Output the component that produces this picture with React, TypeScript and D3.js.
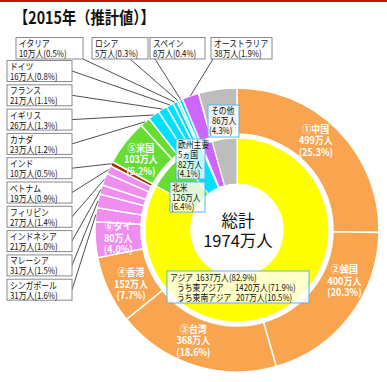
import React from 'react';
import * as d3 from 'd3';

// ---- data (万人, %) ----
const countries = ['中国', '韓国', '台湾', '香港', 'タイ', 'シンガポール', 'マレーシア', 'インドネシア', 'フィリピン', 'ベトナム', 'インド', '米国', 'カナダ', 'イギリス', 'フランス', 'ドイツ', 'イタリア', 'ロシア', 'スペイン', 'オーストラリア', 'その他'];
const visitors = [499, 400, 368, 152, 80, 31, 31, 21, 27, 19, 10, 103, 23, 26, 21, 16, 10, 5, 8, 38, 86];
const shares = [25.3, 20.3, 18.6, 7.7, 4.0, 1.6, 1.5, 1.0, 1.4, 0.9, 0.5, 5.2, 1.2, 1.3, 1.1, 0.8, 0.5, 0.3, 0.4, 1.9, 4.3];
const countryGroup = ['east', 'east', 'east', 'east', 'sea', 'sea', 'sea', 'sea', 'sea', 'sea', 'india', 'na', 'na', 'eu', 'eu', 'eu', 'eu', 'eu', 'eu', 'au', 'other'];

const regions = ['アジア', '北米', '欧州主要5ヵ国', 'ロシア', 'オーストラリア', 'その他'];
const regionVisitors = [1637, 126, 82, 5, 38, 86];
const regionShares = [82.9, 6.4, 4.1, 0.3, 1.9, 4.3];
const regionGroup = ['asia', 'na', 'eu', 'eu', 'au', 'other'];
const asiaSubNames = ['うち東アジア', 'うち東南アジア'];
const asiaSubVisitors = [1420, 207];
const asiaSubShares = [71.9, 10.5];

const rankedLabels = ['①中国', '②韓国', '③台湾', '④香港', '⑥タイ', '⑤米国'];
const rankedCountries = ['中国', '韓国', '台湾', '香港', 'タイ', '米国'];

const leftBoxCountries = ['ドイツ', 'フランス', 'イギリス', 'カナダ', 'インド', 'ベトナム', 'フィリピン', 'インドネシア', 'マレーシア', 'シンガポール'];
const topBoxCountries = ['イタリア', 'ロシア', 'スペイン', 'オーストラリア'];

const totalLabel = ['総計', '1974万人'];
const title = '【2015年（推計値）】';

// ---- style / layout ----
const W = 387, H = 382;
const cx = 237, cy = 230;
const R_OUT = 142, R_OUT_IN = 96, R_IN_OUT = 92, R_IN_IN = 46;
const FONT = '"Noto Sans CJK JP", "Noto Sans", sans-serif';
const SX = 0.84;
const colors: Record<string, string> = {
  east: '#F9A54F', sea: '#EF8EEF', india: '#993300', na: '#66DD33', eu: '#00E1FF', au: '#CC66FF', other: '#BDBDBD', asia: '#FFFF00',
};
const labelAngleOffset: Record<string, number> = { '中国': -4, '韓国': -12, '台湾': 4, '香港': -2, 'タイ': 0, '米国': -2 };
const topBoxLayout = [
  { x: 16, w: 67, ax: 83 },
  { x: 92, w: 56, ax: 130 },
  { x: 150, w: 55, ax: 155 },
  { x: 211, w: 61, ax: 213 },
];

const pct = (v: number) => `(${v.toFixed(1)}%)`;
const fmt = (i: number) => `${visitors[i]}万人${pct(shares[i])}`;

function T({ x, y, children, size = 9.3, sx = SX, anchor = 'start', weight = 'normal', fill = '#111' }: any) {
  return (
    <g transform={`translate(${x},${y}) scale(${sx},1)`}>
      <text x={0} y={0} fontSize={size} fontFamily={FONT} fontWeight={weight} fill={fill} textAnchor={anchor}>{children}</text>
    </g>
  );
}

export default function App() {
  const pie = d3.pie<number>().sort(null).value((d) => d);
  const outer = pie(visitors);
  const inner = pie(regionVisitors);
  const arcOuter = d3.arc<d3.PieArcDatum<number>>().innerRadius(R_OUT_IN).outerRadius(R_OUT);
  const arcInner = d3.arc<d3.PieArcDatum<number>>().innerRadius(R_IN_IN).outerRadius(R_IN_OUT);
  const mid = (a: d3.PieArcDatum<number>) => (a.startAngle + a.endAngle) / 2;
  const polar = (r: number, ang: number) => [cx + r * Math.sin(ang), cy - r * Math.cos(ang)];

  return (
    <svg width={W} height={H} style={{ position: 'absolute', left: 0, top: 0, background: '#fff' }}>
      <rect x={0} y={0} width={W} height={2} fill="#CC1111" />
      <T x={14} y={24} size={17} sx={0.84} weight="bold">{title}</T>

      {/* outer ring */}
      <g>
        {outer.map((a, i) => (
          <path key={i} d={arcOuter(a) || ''} transform={`translate(${cx},${cy})`} fill={colors[countryGroup[i]]} stroke="#fff" strokeWidth={1.5} />
        ))}
      </g>
      {/* inner ring */}
      <g>
        {inner.map((a, i) => (
          <path key={i} d={arcInner(a) || ''} transform={`translate(${cx},${cy})`} fill={colors[regionGroup[i]]} stroke="#fff" strokeWidth={1.2} />
        ))}
      </g>

      {/* ranked labels in ring */}
      {rankedCountries.map((c, k) => {
        const i = countries.indexOf(c);
        const a = mid(outer[i]) + (labelAngleOffset[c] * Math.PI) / 180;
        const [x, y] = polar(119, a);
        return (
          <g key={c}>
            <T x={x} y={y - 8} size={10} sx={0.9} anchor="middle" weight="bold" fill="#fff">{rankedLabels[k]}</T>
            <T x={x} y={y + 3.5} size={10} sx={0.9} anchor="middle" weight="bold" fill="#fff">{`${visitors[i]}万人`}</T>
            <T x={x} y={y + 15} size={10} sx={0.9} anchor="middle" weight="bold" fill="#fff">{pct(shares[i])}</T>
          </g>
        );
      })}

      {/* left label boxes */}
      {leftBoxCountries.map((c, k) => {
        const i = countries.indexOf(c);
        const bx = 7, bw = 65, bh = 21, by = 60.5 + k * 24.3;
        const [ex, ey] = polar(R_OUT, mid(outer[i]));
        return (
          <g key={c}>
            <line x1={bx + bw} y1={by + bh / 2} x2={ex} y2={ey} stroke="#222" strokeWidth={0.8} />
            <rect x={bx} y={by} width={bw} height={bh} fill="#fff" stroke="#8a8a8a" strokeWidth={1} />
            <T x={bx + 3} y={by + 9.5}>{c}</T>
            <T x={bx + 3} y={by + 19.5}>{fmt(i)}</T>
          </g>
        );
      })}
      {/* top label boxes */}
      {topBoxCountries.map((c, k) => {
        const i = countries.indexOf(c);
        const L = topBoxLayout[k];
        const by = 37.5, bh = 21.5;
        const [ex, ey] = polar(R_OUT, mid(outer[i]));
        return (
          <g key={c}>
            <line x1={L.ax} y1={by + bh} x2={ex} y2={ey} stroke="#222" strokeWidth={0.8} />
            <rect x={L.x} y={by} width={L.w} height={bh} fill="#fff" stroke="#8a8a8a" strokeWidth={1} />
            <T x={L.x + 3} y={by + 9.5}>{c}</T>
            <T x={L.x + 3} y={by + 19.5}>{fmt(i)}</T>
          </g>
        );
      })}

      {/* center total */}
      <circle cx={cx} cy={cy} r={R_IN_IN - 0.5} fill="#fff" />
      <text x={cx + 1} y={227} textAnchor="middle" fontSize={16.5} fontFamily={FONT} fill="#111">{totalLabel[0]}</text>
      <text x={cx + 1} y={247} textAnchor="middle" fontSize={16.5} fontFamily={FONT} fill="#111">{totalLabel[1]}</text>

      {/* annotation boxes */}
      <rect x={208} y={105} width={31} height={32} fill="#fff" fillOpacity={0.8} stroke="#55B8E8" strokeWidth={1} />
      <T x={211} y={114}>{regions[5]}</T>
      <T x={212} y={124}>{`${regionVisitors[5]}万人`}</T>
      <T x={209} y={134}>{pct(regionShares[5])}</T>

      <rect x={176} y={139} width={29} height={40} fill="#fff" fillOpacity={0.75} stroke="#55B8E8" strokeWidth={1} />
      <T x={178} y={148}>欧州主要</T>
      <T x={178} y={158}>5ヵ国</T>
      <T x={178} y={168}>{`${regionVisitors[2]}万人`}</T>
      <T x={177} y={177}>{pct(regionShares[2])}</T>

      <rect x={170} y={182} width={35} height={30} fill="#fff" fillOpacity={0.8} stroke="#55B8E8" strokeWidth={1} />
      <T x={172} y={191}>{regions[1]}</T>
      <T x={172} y={201}>{`${regionVisitors[1]}万人`}</T>
      <T x={171} y={210}>{pct(regionShares[1])}</T>

      <rect x={167} y={271} width={142} height={32} fill="#fff" fillOpacity={0.8} stroke="#55B8E8" strokeWidth={1} />
      <T x={170} y={281}>{regions[0]}</T>
      <T x={196} y={281}>{`${regionVisitors[0]}万人${pct(regionShares[0])}`}</T>
      <T x={177} y={291}>{asiaSubNames[0]}</T>
      <T x={235} y={291}>{`${asiaSubVisitors[0]}万人${pct(asiaSubShares[0])}`}</T>
      <T x={177} y={301}>{asiaSubNames[1]}</T>
      <T x={236} y={301}>{`${asiaSubVisitors[1]}万人${pct(asiaSubShares[1])}`}</T>
    </svg>
  );
}
